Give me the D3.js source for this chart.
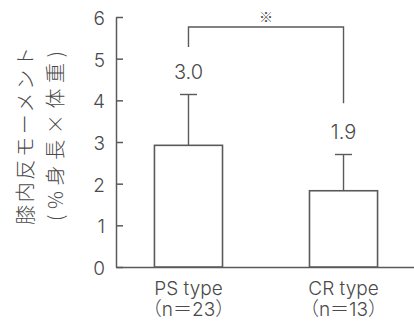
<!DOCTYPE html>
<html>
<head>
<meta charset="utf-8">
<script src="https://cdn.jsdelivr.net/npm/d3@7"></script>
<style>
  html, body { margin: 0; padding: 0; background: #fff; }
  svg { display: block; }
  text { fill: #4a4a4a; }
</style>
</head>
<body>
<svg id="chart" width="414" height="328"></svg>
<script>
// data
var groups = ["PS type", "CR type"]
var groupN = ["（n＝23）", "（n＝13）"]
var means = [2.92, 1.83]
var errTops = [4.14, 2.70]
var valueLabels = ["3.0", "1.9"]
var yTicks = [0, 1, 2, 3, 4, 5, 6]
// significance bracket (in y units): top line, left leg end, right leg end
var bracketTop = 5.76
var bracketEnds = [5.28, 3.93]

var latin = "Inter, 'Noto Sans CJK JP', sans-serif"
var jp = "'Noto Sans CJK JP', sans-serif"
var lineCol = "#5a5a5a"

var svg = d3.select("#chart")

var y = d3.scaleLinear().domain([0, 6]).range([267, 17])
var x = d3.scaleBand().domain(groups).range([116, 416])
    .paddingInner(0.561).paddingOuter(0.248)

// y axis, ticks pointing inward
var yAxis = svg.append("g")
    .attr("transform", "translate(116,0)")
    .call(d3.axisLeft(y).tickValues(yTicks).tickFormat(d3.format("d"))
        .tickSizeInner(-7).tickSizeOuter(0).tickPadding(11))
yAxis.select(".domain").attr("stroke", lineCol).attr("stroke-width", 1.5)
yAxis.selectAll(".tick line").attr("stroke", lineCol).attr("stroke-width", 1.5)
yAxis.selectAll(".tick text")
    .attr("font-family", latin).attr("font-size", 19).attr("font-weight", 300)
    .attr("fill", "#4a4a4a")
    .attr("dy", "0.4em")

// baseline
svg.append("g")
    .attr("transform", "translate(0,267)")
    .call(d3.axisBottom(x).tickSize(0).tickFormat(""))
    .select(".domain").attr("stroke", lineCol).attr("stroke-width", 1.5)

// bars
svg.selectAll("rect.bar")
    .data(means)
    .join("rect")
    .attr("class", "bar")
    .attr("x", (d, i) => x(groups[i]))
    .attr("y", d => y(d))
    .attr("width", x.bandwidth())
    .attr("height", d => y(0) - y(d))
    .attr("fill", "#fff")
    .attr("stroke", lineCol)
    .attr("stroke-width", 1.6)

// error bars
var cx = i => x(groups[i]) + x.bandwidth() / 2
var err = svg.append("g").attr("stroke", lineCol).attr("stroke-width", 1.4)
errTops.forEach((e, i) => {
    err.append("line").attr("x1", cx(i)).attr("x2", cx(i)).attr("y1", y(means[i])).attr("y2", y(e))
    err.append("line").attr("x1", cx(i) - 8.5).attr("x2", cx(i) + 8.5).attr("y1", y(e)).attr("y2", y(e))
})

// value labels
svg.selectAll("text.val")
    .data(valueLabels)
    .join("text")
    .attr("class", "val")
    .attr("x", (d, i) => cx(i))
    .attr("y", (d, i) => y(errTops[i]) - 16)
    .attr("text-anchor", "middle")
    .attr("font-family", latin)
    .attr("font-weight", 300)
    .attr("font-size", 20)
    .text(d => d)

// significance bracket
svg.append("path")
    .attr("d", d3.line()([
        [cx(0), y(bracketEnds[0])], [cx(0), y(bracketTop)],
        [cx(1), y(bracketTop)], [cx(1), y(bracketEnds[1])]
    ]))
    .attr("fill", "none")
    .attr("stroke", lineCol)
    .attr("stroke-width", 1.4)
svg.append("text")
    .attr("x", (cx(0) + cx(1)) / 2)
    .attr("y", y(bracketTop) - 5)
    .attr("text-anchor", "middle")
    .attr("font-family", jp)
    .attr("font-size", 14)
    .text("※")

// category labels
groups.forEach((g, i) => {
    var t = svg.append("text")
        .attr("x", cx(i))
        .attr("text-anchor", "middle")
        .attr("font-family", latin)
        .attr("font-weight", 300)
        .attr("font-size", 19)
    t.append("tspan").attr("x", cx(i)).attr("y", 295).text(g)
    t.append("tspan").attr("x", cx(i)).attr("y", 316).text(groupN[i])
})

// y title (two lines, rotated)
var title = ["膝内反モーメント", "(%身長×体重)"]
var titleX = [33, 63]
var titleLen = [178, 170]
title.forEach((s, i) => {
    svg.append("text")
        .attr("transform", `translate(${titleX[i]},136) rotate(-90)`)
        .attr("text-anchor", "middle")
        .attr("font-family", jp)
        .attr("font-weight", 300)
        .attr("font-size", 20)
        .attr("textLength", titleLen[i])
        .attr("lengthAdjust", "spacing")
        .text(s)
})
</script>
</body>
</html>
